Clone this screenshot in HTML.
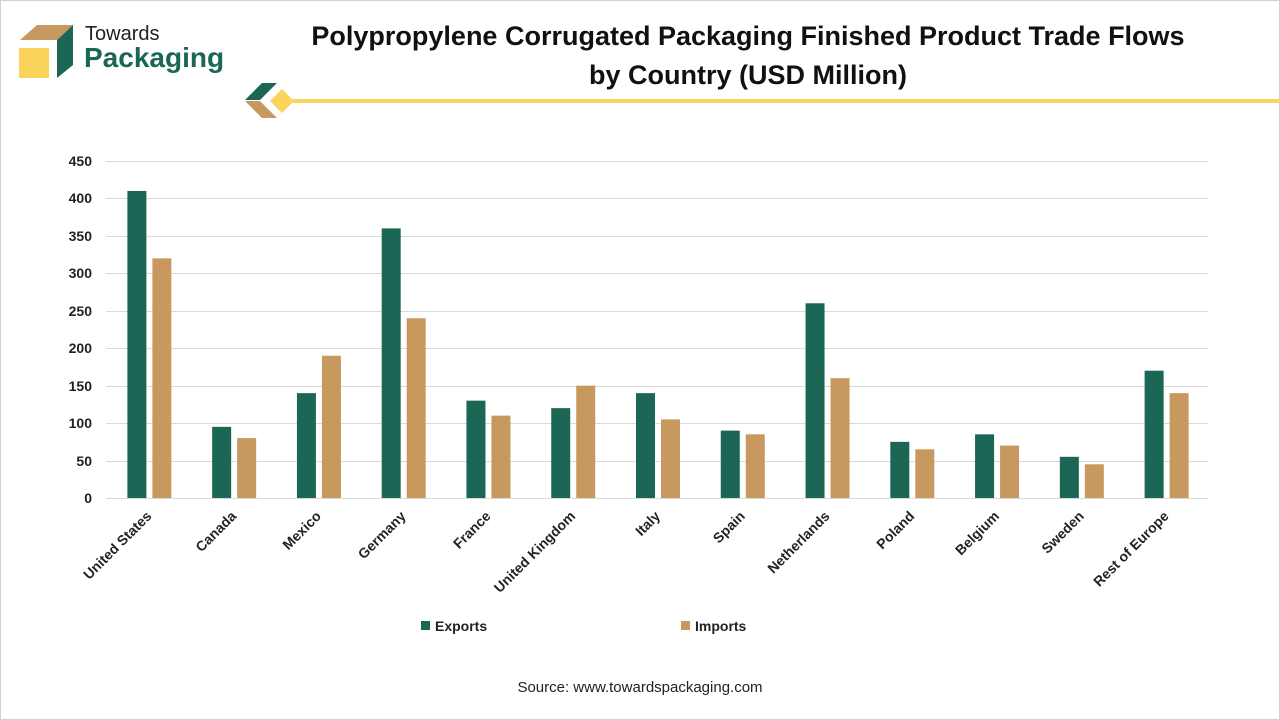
<!DOCTYPE html>
<html><head><meta charset="utf-8"><style>
body{margin:0;width:1280px;height:720px;background:#fff;font-family:"Liberation Sans",Arial,sans-serif;overflow:hidden}
.frame{position:absolute;left:0;top:0;width:1278px;height:718px;border:1px solid #d0d0d0}
</style></head><body>
<div class="frame"></div>
<svg width="1280" height="720" style="position:absolute;left:0;top:0">
<polygon points="20,40 37,25 73,25 57,40" fill="#c8995f"/>
<rect x="19" y="48" width="30" height="30" fill="#f9d35a"/>
<polygon points="57,40 73,25 73,65 57,78" fill="#1b6654"/>
<text x="85" y="40" font-size="20" fill="#222">Towards</text>
<text x="84" y="67" font-size="28" font-weight="bold" fill="#1b6654">Packaging</text>
<text x="748" y="45" font-size="27" font-weight="bold" text-anchor="middle" fill="#111">Polypropylene Corrugated Packaging Finished Product Trade Flows</text>
<text x="748" y="84" font-size="27" font-weight="bold" text-anchor="middle" fill="#111">by Country (USD Million)</text>
<polygon points="245,100 262,83 277,83 260,100" fill="#1b6654"/>
<polygon points="245,101 260,101 277,118 262,118" fill="#c8995f"/>
<polygon points="282,89 294,101 282,113 270,101" fill="#f9d35a"/>
<rect x="290" y="99" width="990" height="4" fill="#f4d860"/>
<g stroke="#d9d9d9" stroke-width="1">
<line x1="106" x2="1208" y1="161.5" y2="161.5"/><line x1="106" x2="1208" y1="198.5" y2="198.5"/>
<line x1="106" x2="1208" y1="236.5" y2="236.5"/><line x1="106" x2="1208" y1="273.5" y2="273.5"/>
<line x1="106" x2="1208" y1="311.5" y2="311.5"/><line x1="106" x2="1208" y1="348.5" y2="348.5"/>
<line x1="106" x2="1208" y1="386.5" y2="386.5"/><line x1="106" x2="1208" y1="423.5" y2="423.5"/>
<line x1="106" x2="1208" y1="461.5" y2="461.5"/><line x1="106" x2="1208" y1="498.5" y2="498.5"/>
</g>
<g font-size="14" font-weight="bold" fill="#222" text-anchor="end">
<text x="92" y="166">450</text><text x="92" y="203">400</text><text x="92" y="241">350</text>
<text x="92" y="278">300</text><text x="92" y="316">250</text><text x="92" y="353">200</text>
<text x="92" y="391">150</text><text x="92" y="428">100</text><text x="92" y="466">50</text><text x="92" y="503">0</text>
</g>
<g id="bars"></g>
<g id="labels" font-size="14" font-weight="bold" fill="#222" text-anchor="end"></g>
<rect x="421" y="621" width="9" height="9" fill="#1b6654"/>
<text x="435" y="631" font-size="14" font-weight="bold" fill="#222">Exports</text>
<rect x="681" y="621" width="9" height="9" fill="#c8995f"/>
<text x="695" y="631" font-size="14" font-weight="bold" fill="#222">Imports</text>
<text x="640" y="692" font-size="15" text-anchor="middle" fill="#222">Source: www.towardspackaging.com</text>
</svg>
<script>
var d=[["United States",410,320],["Canada",95,80],["Mexico",140,190],["Germany",360,240],["France",130,110],["United Kingdom",120,150],["Italy",140,105],["Spain",90,85],["Netherlands",260,160],["Poland",75,65],["Belgium",85,70],["Sweden",55,45],["Rest of Europe",170,140]];
var ns="http://www.w3.org/2000/svg",b=document.getElementById("bars"),l=document.getElementById("labels");
var k=337/450,w=1102/13;
d.forEach(function(r,i){var c=106+w*i+w/2;
[[r[1],c-21,"#1b6654"],[r[2],c+4,"#c8995f"]].forEach(function(s){var e=document.createElementNS(ns,"rect");var h=s[0]*k;e.setAttribute("x",s[1]);e.setAttribute("y",498-h);e.setAttribute("width",19);e.setAttribute("height",h);e.setAttribute("fill",s[2]);b.appendChild(e);});
var t=document.createElementNS(ns,"text");t.setAttribute("transform","translate("+(c+4)+",517) rotate(-45)");t.textContent=r[0];l.appendChild(t);});
</script>
</body></html>
